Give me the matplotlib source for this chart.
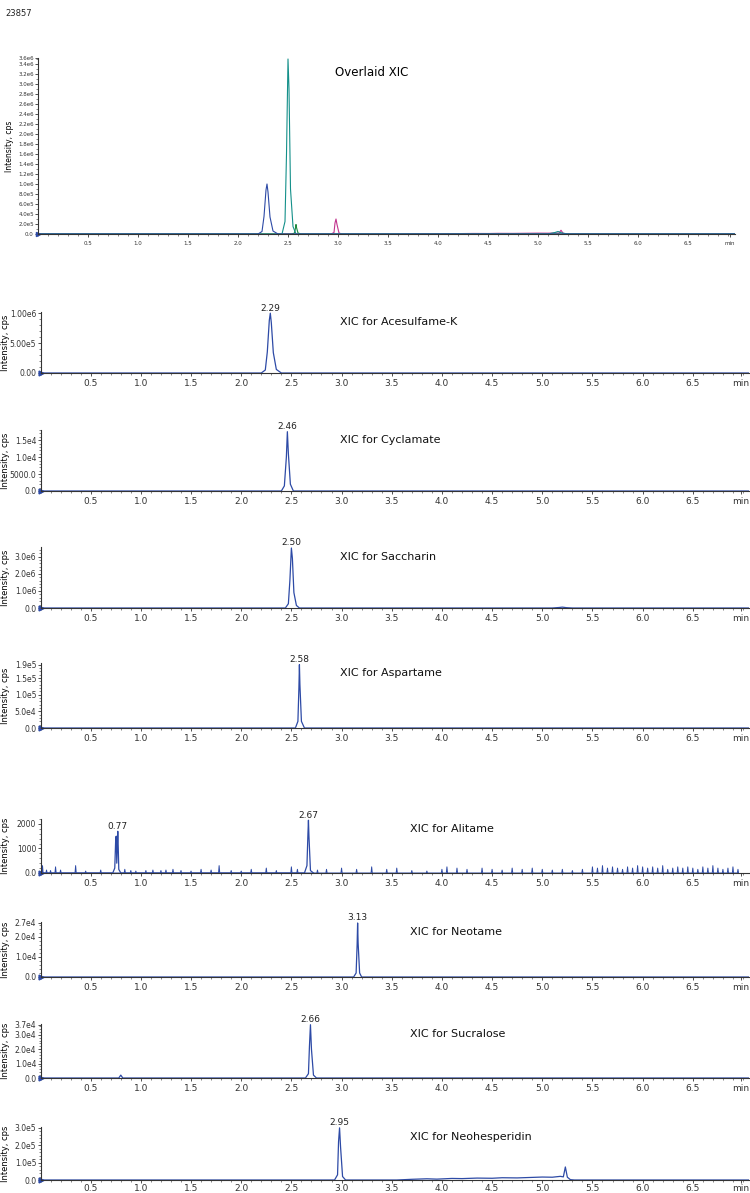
import matplotlib.pyplot as plt
from matplotlib.ticker import MultipleLocator

BLUE = '#2d4aa6'
TEAL = '#14908a'
GREEN = '#1f8a3e'
MAGENTA = '#c2348e'

# time (min) / intensity (cps) points
ace_t = [0.0, 2.20, 2.24, 2.26, 2.28, 2.29, 2.30, 2.32, 2.35, 2.40, 7.1]
ace_i = [0, 0, 5e4, 3.5e5, 8.8e5, 1.0e6, 8.4e5, 3.4e5, 6e4, 0, 0]

cyc_t = [0.0, 2.40, 2.43, 2.45, 2.46, 2.47, 2.49, 2.52, 7.1]
cyc_i = [0, 0, 1.5e3, 1.0e4, 1.75e4, 1.1e4, 2e3, 0, 0]

sac_t = [0.0, 2.44, 2.47, 2.485, 2.50, 2.51, 2.525, 2.55, 2.58, 5.10, 5.17, 5.20, 5.24, 5.30, 7.1]
sac_i = [0, 0, 2.5e5, 1.6e6, 3.5e6, 2.9e6, 9e5, 1.5e5, 0, 0, 3e4, 5e4, 2e4, 0, 0]

asp_t = [0.0, 2.54, 2.565, 2.575, 2.58, 2.585, 2.60, 2.63, 7.1]
asp_i = [0, 0, 2e4, 1.2e5, 1.9e5, 1.3e5, 2e4, 0, 0]

ali_t = [0.0, 0.72, 0.74, 0.75, 0.755, 0.76, 0.77, 0.775, 0.78, 0.80, 2.63, 2.655, 2.665, 2.67, 2.675, 2.69, 2.72]
ali_i = [0, 0, 200, 1450, 1500, 400, 1700, 1000, 150, 0, 0, 300, 1600, 2150, 1500, 100, 0]
# baseline noise spikes (time, height)
ali_noise_t = [0.02, 0.06, 0.10, 0.15, 0.20, 0.35, 0.45, 0.60, 0.84, 0.90, 0.95, 1.05,
               1.12, 1.20, 1.25, 1.32, 1.40, 1.50, 1.60, 1.70, 1.78, 1.90, 2.00, 2.10,
               2.25, 2.35, 2.50, 2.56, 2.76, 2.85, 3.00, 3.15, 3.30, 3.45, 3.55, 3.70,
               3.85, 4.00, 4.05, 4.15, 4.25, 4.40, 4.50, 4.60, 4.70, 4.80, 4.90, 5.00,
               5.10, 5.20, 5.30, 5.40, 5.50, 5.55, 5.60, 5.65, 5.70, 5.75, 5.80, 5.85,
               5.90, 5.95, 6.00, 6.05, 6.10, 6.15, 6.20, 6.25, 6.30, 6.35, 6.40, 6.45,
               6.50, 6.55, 6.60, 6.65, 6.70, 6.75, 6.80, 6.85, 6.90, 6.95]
ali_noise_i = [300, 120, 100, 250, 120, 300, 80, 120, 150, 100, 80, 100,
               120, 100, 120, 150, 100, 80, 150, 120, 300, 100, 80, 150,
               200, 100, 250, 150, 120, 150, 200, 150, 250, 150, 200, 100,
               80, 150, 250, 200, 150, 200, 150, 120, 200, 150, 200, 150,
               120, 150, 100, 150, 250, 200, 300, 200, 250, 200, 150, 250,
               200, 300, 250, 200, 250, 200, 300, 150, 200, 250, 200, 250,
               200, 150, 250, 200, 300, 200, 150, 200, 250, 150]

neo_t = [0.0, 3.12, 3.145, 3.155, 3.16, 3.165, 3.18, 3.20, 7.1]
neo_i = [0, 0, 2e3, 1.6e4, 2.7e4, 1.7e4, 2e3, 0, 0]

suc_t = [0.0, 0.78, 0.80, 0.82, 2.64, 2.67, 2.68, 2.69, 2.70, 2.72, 2.75, 7.1]
suc_i = [0, 0, 2e3, 0, 0, 3e3, 2.2e4, 3.7e4, 2.0e4, 2e3, 0, 0]

nhd_t = [0.0, 2.93, 2.96, 2.97, 2.98, 2.99, 3.01, 3.04, 3.55, 3.70, 3.85, 3.95, 4.10,
         4.20, 4.35, 4.50, 4.60, 4.75, 4.90, 5.00, 5.10, 5.18, 5.21, 5.23, 5.25, 5.28,
         5.32, 7.1]
nhd_i = [0, 0, 3e4, 2.2e5, 3.0e5, 1.9e5, 2e4, 0, 0, 4e3, 7e3, 5e3, 9e3,
         8e3, 1.1e4, 1.0e4, 1.3e4, 1.2e4, 1.5e4, 1.7e4, 1.6e4, 2.1e4, 1.8e4, 7.5e4, 1.6e4, 2e3,
         0, 0]

panels = [
    ('XIC for Acesulfame-K', ace_t, ace_i, [(2.29, '2.29', 1.0e6)],
     [0, 5e5, 1.0e6], ['0.00', '5.00e5', '1.00e6'], 1.02e6),
    ('XIC for Cyclamate', cyc_t, cyc_i, [(2.46, '2.46', 1.75e4)],
     [0, 5000, 1.0e4, 1.5e4], ['0.0', '5000.0', '1.0e4', '1.5e4'], 1.8e4),
    ('XIC for Saccharin', sac_t, sac_i, [(2.50, '2.50', 3.5e6)],
     [0, 1e6, 2e6, 3e6], ['0.0', '1.0e6', '2.0e6', '3.0e6'], 3.56e6),
    ('XIC for Aspartame', asp_t, asp_i, [(2.58, '2.58', 1.9e5)],
     [0, 5e4, 1e5, 1.5e5, 1.9e5], ['0.0', '5.0e4', '1.0e5', '1.5e5', '1.9e5'], 1.95e5),
    ('XIC for Alitame', ali_t, ali_i, [(0.77, '0.77', 1700), (2.67, '2.67', 2150)],
     [0, 1000, 2000], ['0.0', '1000', '2000'], 2200),
    ('XIC for Neotame', neo_t, neo_i, [(3.16, '3.13', 2.7e4)],
     [0, 1e4, 2e4, 2.7e4], ['0.0', '1.0e4', '2.0e4', '2.7e4'], 2.75e4),
    ('XIC for Sucralose', suc_t, suc_i, [(2.69, '2.66', 3.7e4)],
     [0, 1e4, 2e4, 3e4, 3.7e4], ['0.0', '1.0e4', '2.0e4', '3.0e4', '3.7e4'], 3.75e4),
    ('XIC for Neohesperidin', nhd_t, nhd_i, [(2.98, '2.95', 3.0e5)],
     [0, 1e5, 2e5, 3e5], ['0.0', '1.0e5', '2.0e5', '3.0e5'], 3.05e5),
]

# pixel rows (top, bottom) of each lower panel
panel_rows = [(312, 373), (430, 491), (547, 608), (663, 728),
              (819, 873), (922, 977), (1024, 1078), (1127, 1180)]
title_x = [340, 340, 340, 340, 410, 410, 410, 410]

W, H = 750, 1193
AX_L, AX_R = 40.5, 749
XT = [0.5, 1.0, 1.5, 2.0, 2.5, 3.0, 3.5, 4.0, 4.5, 5.0, 5.5, 6.0, 6.5]
XL = ['0.5', '1.0', '1.5', '2.0', '2.5', '3.0', '3.5', '4.0', '4.5', '5.0', '5.5', '6.0', '6.5']


def spikes(ts, hs):
    xs, ys = [], []
    for t, h in zip(ts, hs):
        xs += [t - 0.006, t, t + 0.006]
        ys += [0, h, 0]
    return xs, ys


def style_axis(ax, fs, tick_len, xpad):
    for s in ['top', 'right']:
        ax.spines[s].set_visible(False)
    for s in ['left', 'bottom']:
        ax.spines[s].set_color('#333333')
        ax.spines[s].set_linewidth(0.8)
    ax.xaxis.set_minor_locator(MultipleLocator(0.1))
    ax.tick_params(axis='both', which='major', labelsize=fs, length=tick_len, width=0.6,
                   colors='#333333', pad=1)
    ax.tick_params(axis='both', which='minor', length=tick_len * 0.6, width=0.5, colors='#555555')
    ax.tick_params(axis='x', pad=xpad)


fig = plt.figure(figsize=(W / 100, H / 100), dpi=100)
fig.text(5 / W, 1 - 16 / H, '23857', fontsize=6, color='#222222')

# overlaid panel
ax0 = fig.add_axes([38 / W, 1 - 234 / H, 697 / W, 176 / H])
ax0.plot(nhd_t, nhd_i, color=MAGENTA, lw=0.8)
ax0.plot(asp_t, asp_i, color=GREEN, lw=0.8)
ax0.plot(sac_t, sac_i, color=TEAL, lw=0.8)
ax0.plot(ace_t, ace_i, color=BLUE, lw=0.8)
ax0.set_xlim(0, 6.97)
ax0.set_ylim(0, 3.52e6)
yt0 = [i * 2e5 for i in range(18)]
yl0 = ['0.0'] + [('%.1e' % v).replace('e+0', 'e') for v in yt0[1:]]
ax0.set_yticks(yt0 + [3.52e6])
ax0.set_yticklabels(yl0 + ['3.6e6'])
ax0.yaxis.set_minor_locator(MultipleLocator(1e5))
ax0.set_xticks(XT + [6.92])
ax0.set_xticklabels(XL + ['min'])
style_axis(ax0, 4, 2, 3)
ax0.set_ylabel('Intensity, cps', fontsize=5.5)
ax0.yaxis.set_label_coords((14 - 38) / 697, 0.5)
ax0.plot(0, 0, marker='>', ms=3, color=BLUE, clip_on=False)
ax0.text((335 - 38) / 697, (234 - 73) / 176, 'Overlaid XIC', transform=ax0.transAxes,
         fontsize=8.5, va='center')

for k, ((title, tt, ii, labels, yt, yl, ytop), (top, bot), tx) in enumerate(zip(panels, panel_rows, title_x)):
    ax = fig.add_axes([AX_L / W, 1 - bot / H, (AX_R - AX_L) / W, (bot - top) / H])
    if title == 'XIC for Alitame':
        nx, ny = spikes(ali_noise_t, ali_noise_i)
        ax.plot(nx, ny, color=BLUE, lw=0.7)
    ax.plot(tt, ii, color=BLUE, lw=0.9)
    ax.set_xlim(0, 7.06)
    ax.set_ylim(0, ytop)
    ax.set_xticks(XT + [6.98])
    ax.set_xticklabels(XL + ['min'])
    ax.set_yticks(yt)
    ax.set_yticklabels(yl)
    ax.yaxis.set_minor_locator(MultipleLocator(yt[1] / 5))
    style_axis(ax, 5.5, 2, 0.8 if k == len(panels) - 1 else 2.5)
    ax.tick_params(axis='x', labelsize=6.5)
    ax.set_ylabel('Intensity, cps', fontsize=6)
    ax.yaxis.set_label_coords((10 - AX_L) / (AX_R - AX_L), 0.5)
    ax.plot(0, 0, marker='>', ms=3.5, color=BLUE, clip_on=False)
    for x, lab, y in labels:
        ax.annotate(lab, (x, y), xytext=(0, 0.5), textcoords='offset points',
                    ha='center', va='bottom', fontsize=6.5, color='#222222',
                    annotation_clip=False)
    ax.text((tx - AX_L) / (AX_R - AX_L), 1 - 10 / (bot - top), title,
            transform=ax.transAxes, fontsize=8, va='center', color='#111111')

fig.savefig('out.png', dpi=100)
